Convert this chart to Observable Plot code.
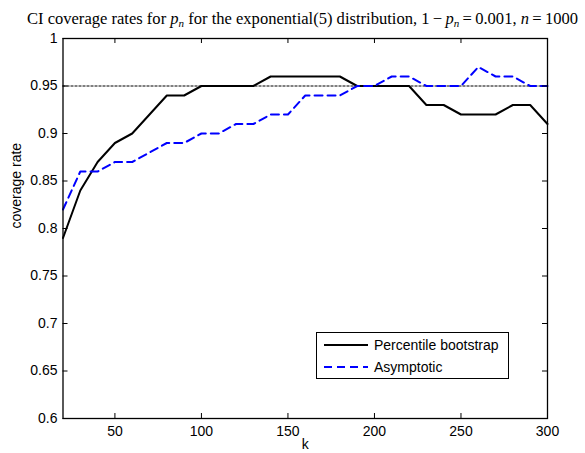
<!DOCTYPE html>
<html><head><meta charset="utf-8">
<script src="https://cdn.jsdelivr.net/npm/d3@7"></script>
<script src="https://cdn.jsdelivr.net/npm/@observablehq/plot@0.6"></script>
<style>
body{margin:0;background:#fff}
#wrap{position:relative;width:585px;height:453px;overflow:hidden;font-family:"Liberation Sans",Arial,sans-serif;color:#000}
#title{position:absolute;left:0;width:605px;top:10px;text-align:center;font-family:"Liberation Serif","DejaVu Serif",serif;font-size:16px;line-height:17px;white-space:nowrap}
#title i{font-style:italic}
#title sub{font-size:11px;vertical-align:-3px;line-height:0}
#legend{position:absolute;left:316px;top:332px;width:191px;height:45px;border:1px solid #000;background:#fff;font-size:14px}
.row{position:absolute;left:0;height:20px;display:flex;align-items:center}
.row svg{margin-left:7px;margin-right:6px}
</style>
</head><body>
<div id="wrap">
<div id="chart"></div>
<div id="title"><span id="tt">CI coverage rates for <i>p</i><sub><i>n</i></sub> for the exponential(5) distribution, 1&#8201;&#8722;&#8201;<i>p</i><sub><i>n</i></sub>&#8201;=&#8201;0.001, <i>n</i>&#8201;=&#8201;1000</span></div>
<div id="legend"></div>
</div>
<script>
const kValues = [20,30,40,50,60,70,80,90,100,110,120,130,140,150,160,170,180,190,200,210,220,230,240,250,260,270,280,290,300];
const bootstrap = [0.79,0.84,0.87,0.89,0.90,0.92,0.94,0.94,0.95,0.95,0.95,0.95,0.96,0.96,0.96,0.96,0.96,0.95,0.95,0.95,0.95,0.93,0.93,0.92,0.92,0.92,0.93,0.93,0.91];
const asymptotic = [0.82,0.86,0.86,0.87,0.87,0.88,0.89,0.89,0.90,0.90,0.91,0.91,0.92,0.92,0.94,0.94,0.94,0.95,0.95,0.96,0.96,0.95,0.95,0.95,0.97,0.96,0.96,0.95,0.95];
const nominal = [0.95];
const xTicks = [50,100,150,200,250,300];
const yTicks = [0.6,0.65,0.7,0.75,0.8,0.85,0.9,0.95,1];
const yTickLabels = ["0.6","0.65","0.7","0.75","0.8","0.85","0.9","0.95","1"];
const seriesNames = ["Percentile bootstrap","Asymptotic"];
const seriesColors = ["#000000","#0000ff"];

const W = 585, H = 453, mL = 62.5, mR = 38, mT = 38, mB = 35;
const fw = W - mL - mR, fh = H - mT - mB, tl = 5;

const chart = Plot.plot({
  width: W, height: H,
  marginLeft: mL, marginRight: mR, marginTop: mT, marginBottom: mB,
  style: {fontFamily: '"Liberation Sans", Arial, sans-serif', fontSize: "14px", color: "#000", background: "#fff", overflow: "visible"},
  x: {domain: [20, 300], ticks: xTicks, tickSize: 0, tickPadding: 8, label: null, tickFormat: d => String(d)},
  y: {domain: [0.6, 1], ticks: yTicks, tickSize: 0, tickPadding: 5.5, label: null,
      tickFormat: d => yTickLabels[yTicks.findIndex(t => Math.abs(t - d) < 1e-9)]},
  marks: [
    Plot.ruleY(nominal, {stroke: "#000", strokeWidth: 1, strokeDasharray: "3,1"}),
    Plot.line(kValues, {x: d => d, y: bootstrap, stroke: seriesColors[0], strokeWidth: 2}),
    Plot.line(kValues, {x: d => d, y: asymptotic, stroke: seriesColors[1], strokeWidth: 2, strokeDasharray: "8,5"}),
    Plot.frame({stroke: "#000", strokeWidth: 1.3}),
    Plot.tickX(xTicks, {x: d => d, insetTop: fh - tl, stroke: "#000"}),
    Plot.tickX(xTicks, {x: d => d, insetBottom: fh - tl, stroke: "#000"}),
    Plot.tickY(yTicks, {y: d => d, insetRight: fw - tl, stroke: "#000"}),
    Plot.tickY(yTicks, {y: d => d, insetLeft: fw - tl, stroke: "#000"}),
    Plot.text(["k"], {text: d => d, frameAnchor: "bottom", dy: 30, fontSize: 14}),
    Plot.text(["coverage rate"], {text: d => d, frameAnchor: "left", dx: -46, rotate: -90, fontSize: 14})
  ]
});
document.getElementById("chart").appendChild(chart);

// fit the title to the reference's width
const tt = document.getElementById("tt");
const titleDiv = document.getElementById("title");
let fs = 16;
for (let i = 0; i < 4; i++) {
  const w = tt.getBoundingClientRect().width;
  if (w > 0) { fs = fs * 551 / w; titleDiv.style.fontSize = fs + "px"; }
}

const legend = document.getElementById("legend");
seriesNames.forEach((name, i) => {
  const row = document.createElement("div");
  row.className = "row";
  row.style.top = (2 + i * 22) + "px";
  const dash = i === 1 ? ' stroke-dasharray="8,5"' : '';
  row.innerHTML = `<svg width="44" height="6"><line x1="0" y1="3" x2="44" y2="3" stroke="${seriesColors[i]}" stroke-width="2"${dash}/></svg><span>${name}</span>`;
  legend.appendChild(row);
});
</script>
</body></html>
